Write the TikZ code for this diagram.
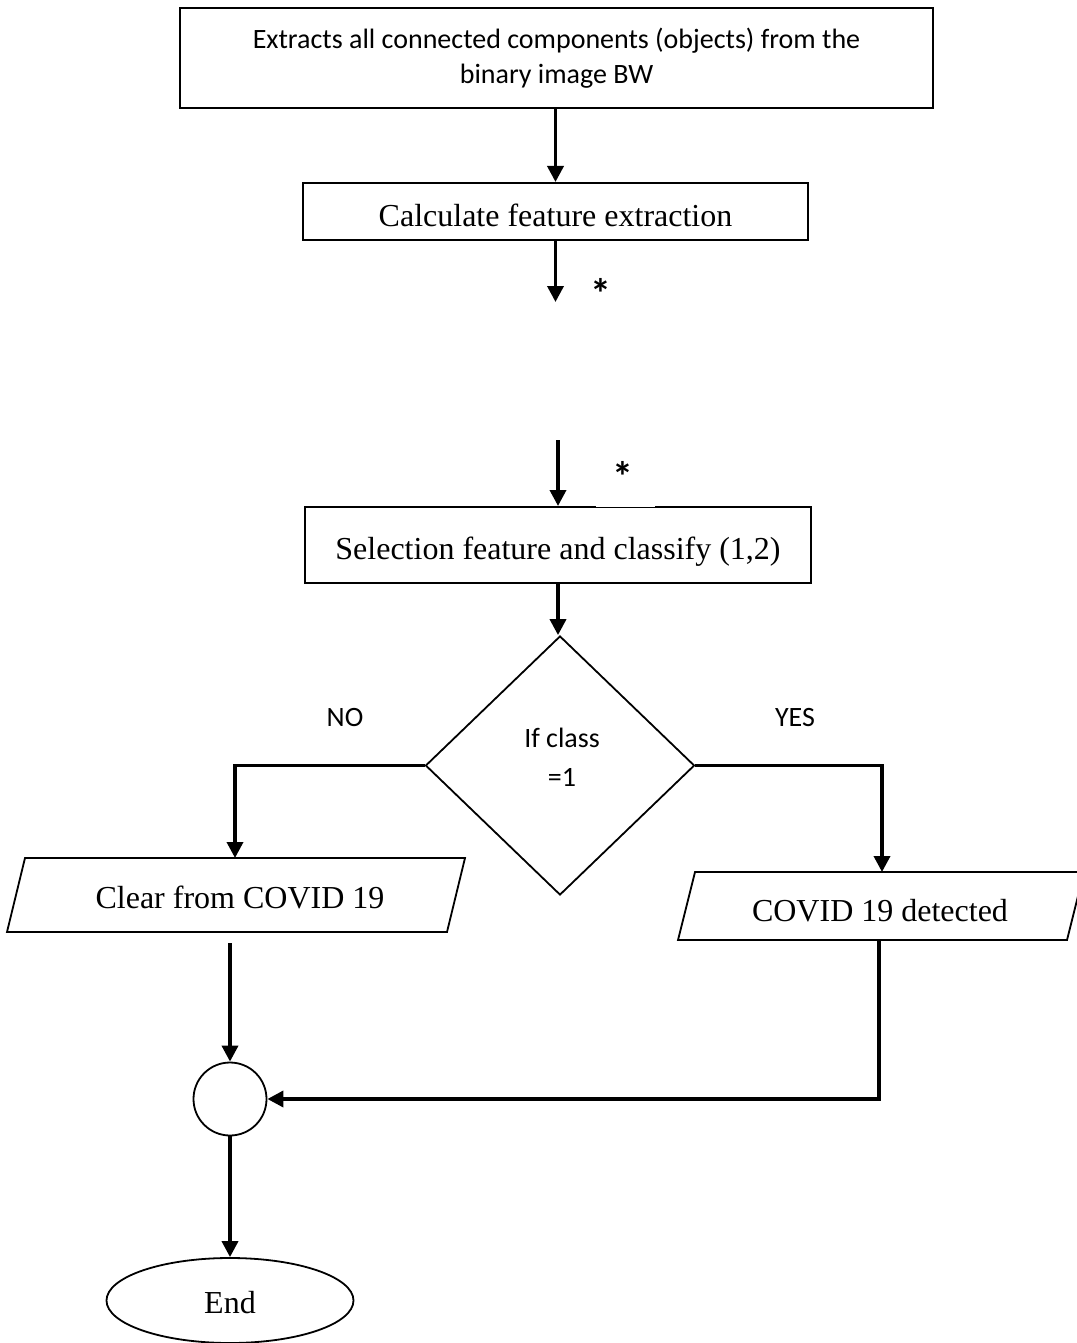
\documentclass[tikz,border=0pt]{standalone}
\usepackage{fontspec}
\setmainfont{Liberation Serif}
\newfontfamily\calibri{Carlito}
\usetikzlibrary{arrows.meta,shapes.geometric}
\begin{document}
\begin{tikzpicture}[x=1pt,y=-1pt,
  box/.style={draw, line width=2pt, inner sep=0pt},
  thinshape/.style={draw, line width=1.8pt},
  arr/.style={line width=3.6pt, -{Triangle[width=16pt,length=16pt]}},
  ln/.style={line width=3.6pt},
  tnr/.style={font=\fontsize{32}{38}\selectfont, inner sep=0pt, anchor=base},
  cal/.style={font=\calibri\fontsize{28}{35}\selectfont, inner sep=0pt, align=center},
  star/.style={font=\calibri\bfseries\fontsize{42}{48}\selectfont, inner sep=0pt}]
\useasboundingbox (0,0) rectangle (1076,1343);

% boxes
\node[box, minimum width=753pt, minimum height=100pt] (b1) at (556.5,58) {};
\node[cal] (t1) at (556.5,58) {Extracts all connected components (objects) from the\\binary image BW};

\node[box, minimum width=505pt, minimum height=57pt] (b2) at (555.5,211.5) {};
\node[tnr] (t2) at (555.5,226) {Calculate feature extraction};

\node[box, minimum width=506pt, minimum height=76pt] (b3) at (558,545) {};
\node[tnr] (t3) at (558,559) {Selection feature and classify (1,2)};
\draw[white, line width=2.6pt] (596,507) -- (655,507);
\draw[line width=0.8pt] (596,507.5) -- (655,507.5);

% decision
\node[draw, diamond, line width=1.8pt, minimum width=269pt, minimum height=259pt, inner sep=0pt] (d) at (560,765.5) {};
\node[cal, font=\calibri\fontsize{28}{39}\selectfont] (dt) at (562,757) {If class\\=1};
\node[cal] (no) at (345,718) {NO};
\node[cal] (yes) at (795,718) {YES};

% parallelograms
\draw[thinshape] (25,858) -- (465,858) -- (447,932) -- (7,932) -- cycle;
\node[tnr] (pl) at (240,908) {Clear from COVID 19};
\draw[thinshape] (695,872) -- (1084,872) -- (1067,940) -- (678,940) -- cycle;
\node[tnr] (pr) at (880,921) {COVID 19 detected};

\coordinate (pltop) at (235,858);
\coordinate (prtop) at (882,872);
\coordinate (plbot) at (230,943);
\coordinate (prbot) at (879,940);

% connector ends
\coordinate (c1) at (555.5,302);
\coordinate (c2) at (558,440);

% circle and end
\node[draw, circle, line width=1.8pt, minimum size=73pt, inner sep=0pt] (cir) at (230,1099) {};
\node[draw, ellipse, line width=1.8pt, minimum width=247pt, minimum height=85pt, inner sep=0pt] (ell) at (230,1300.5) {};
\node[tnr] (endt) at (230,1313) {End};

% stars
\node[star] (s1) at (601,293) {*};
\node[star] (s2) at (623,476) {*};

% connectors
\draw[arr] (b1.south -| b2.north) -- (b2.north);
\draw[arr] (b2.south) -- (c1);
\draw[arr] (c2) -- (b3.north);
\draw[arr] (b3.south) -- (b3.south |- d.north);
\draw[arr] (d.west) -| (pltop);
\draw[arr] (d.east) -| (prtop);
\draw[arr] (plbot) -- (cir.north);
\draw[arr] (prbot) |- (cir.east);
\draw[arr] (cir.south) -- (ell.north);
\end{tikzpicture}
\end{document}
